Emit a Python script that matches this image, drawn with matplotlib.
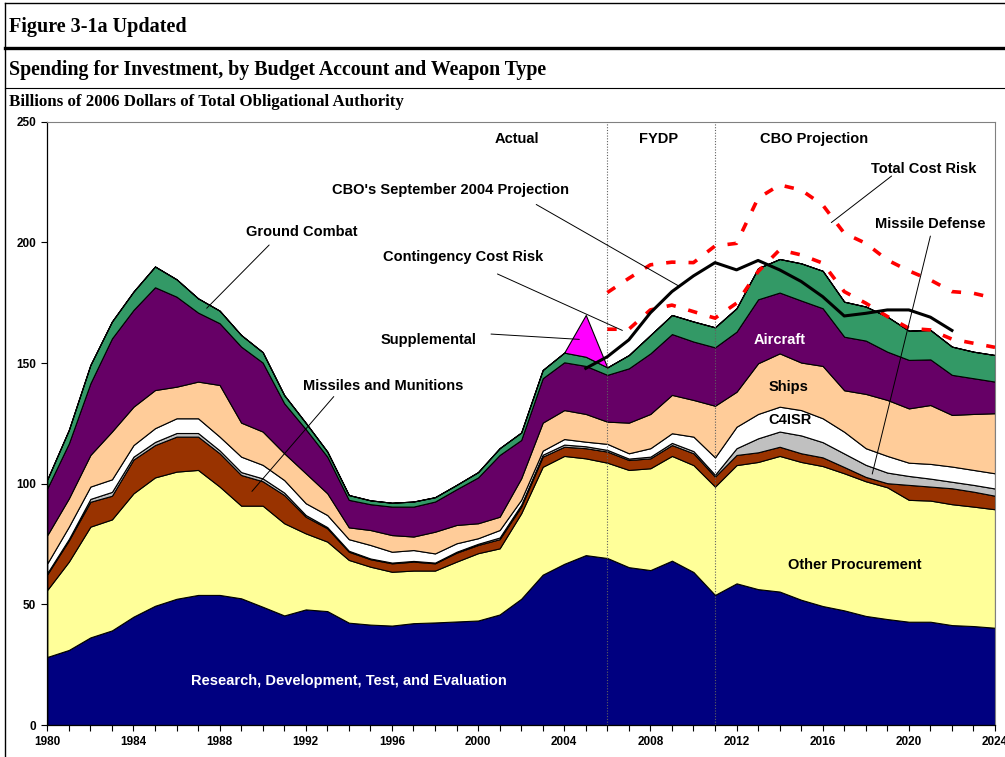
import numpy as np
import matplotlib
matplotlib.use("Agg")
import matplotlib.pyplot as plt
from matplotlib.lines import Line2D

years = list(range(1980, 2025))

rdte = [28.2, 31.1, 36.3, 39.2, 44.9, 49.4, 52.3, 53.9, 53.9, 52.5,
        49.0, 45.4, 47.9, 47.2, 42.4, 41.6, 41.2, 42.2, 42.5, 42.9,
        43.3, 45.8, 52.3, 62.3, 66.8, 70.4, 69.2, 65.4, 64.2, 68.1,
        63.4, 53.9, 58.7, 56.3, 55.3, 51.9, 49.3, 47.5, 45.2, 43.9,
        42.8, 42.8, 41.4, 41.0, 40.3]
other_proc = [27.8, 36.6, 45.9, 46.0, 51.1, 53.2, 52.7, 51.8, 44.9, 38.4,
              41.9, 38.2, 31.5, 28.8, 26.0, 24.0, 22.3, 21.8, 21.5, 24.8,
              27.9, 27.4, 35.4, 44.7, 44.7, 40.1, 39.5, 40.3, 42.2, 43.4,
              44.3, 44.9, 49.0, 52.7, 56.2, 57.1, 58.0, 56.8, 55.8, 54.6,
              50.5, 50.2, 50.1, 49.5, 49.1]
missiles = [6.5, 8.8, 10.3, 9.8, 14.0, 13.4, 14.5, 13.8, 13.8, 12.7,
            10.1, 11.7, 6.9, 5.5, 3.4, 3.1, 3.5, 3.7, 3.0, 3.7,
            3.4, 3.8, 2.8, 4.2, 3.8, 4.2, 4.6, 4.1, 4.1, 4.5,
            4.9, 4.1, 4.2, 4.0, 3.8, 3.6, 3.6, 2.6, 1.8, 1.7,
            6.2, 5.8, 6.6, 6.2, 5.6]
missile_def = [0.5, 0.6, 1.2, 1.6, 1.2, 1.3, 1.5, 1.5, 1.2, 1.2,
               1.2, 1.0, 0.7, 0.5, 0.4, 0.3, 0.3, 0.3, 0.3, 0.4,
               0.5, 0.7, 0.8, 0.8, 0.9, 0.8, 0.7, 0.6, 0.7, 0.9,
               0.9, 0.8, 2.8, 5.8, 6.3, 7.4, 6.3, 5.6, 5.0, 4.4,
               3.7, 3.3, 2.7, 2.8, 3.0]
c4isr = [4.0, 5.1, 5.1, 5.2, 4.8, 5.7, 6.1, 6.1, 5.7, 6.4,
         5.6, 5.2, 4.9, 5.0, 4.8, 5.6, 4.5, 4.5, 3.8, 3.5,
         2.3, 3.1, 2.0, 1.7, 2.3, 1.9, 2.5, 2.2, 3.5, 4.0,
         6.0, 7.2, 8.9, 10.1, 10.3, 10.5, 9.9, 9.0, 6.9, 6.9,
         5.5, 6.1, 6.3, 6.2, 6.3]
ships = [11.7, 11.7, 13.1, 19.8, 15.9, 15.8, 13.1, 15.2, 21.4, 14.1,
         13.8, 11.1, 12.4, 9.0, 4.9, 6.2, 6.9, 5.6, 9.0, 7.6,
         6.2, 5.5, 8.9, 11.6, 12.0, 11.5, 9.2, 12.7, 14.2, 15.9,
         15.2, 21.4, 14.5, 21.0, 22.1, 19.7, 21.7, 17.2, 22.5, 23.2,
         22.5, 24.4, 21.4, 23.2, 24.9]
aircraft = [19.4, 22.8, 29.7, 38.6, 40.1, 42.6, 37.3, 28.6, 25.6, 31.5,
            28.6, 20.7, 18.3, 15.2, 11.4, 10.7, 11.8, 12.4, 12.5, 14.8,
            19.0, 25.6, 15.9, 18.4, 19.8, 19.9, 19.4, 22.5, 25.1, 25.2,
            24.2, 24.2, 24.9, 26.5, 25.2, 25.7, 23.9, 22.2, 22.1, 20.0,
            20.1, 18.9, 16.6, 14.8, 13.1]
ground = [3.7, 5.6, 7.6, 7.0, 7.6, 8.6, 7.2, 5.9, 5.2, 4.8,
          4.3, 3.4, 2.6, 2.1, 2.0, 1.6, 1.6, 2.1, 1.8, 1.8,
          2.2, 2.8, 3.1, 3.4, 4.0, 3.8, 3.1, 5.5, 7.6, 7.9,
          8.3, 8.3, 9.7, 12.9, 13.9, 15.4, 15.5, 14.5, 14.1, 14.5,
          12.1, 12.2, 11.7, 11.0, 11.0]
supplemental = [0.0] * 45
supplemental[25] = 17.3  # 2005

cbo2004_years = list(range(2005, 2023))
cbo2004 = [147.8, 152.6, 159.6, 170.8, 179.6, 186.1, 191.6, 188.6, 192.5,
           188.6, 183.8, 177.5, 169.5, 170.6, 172.0, 172.0, 169.0, 163.5]

risk_years = list(range(2006, 2025))
total_risk = [179.2, 185.1, 190.7, 191.8, 191.6, 198.5, 199.6, 218.3, 223.8,
              221.7, 215.5, 203.8, 199.6, 192.7, 188.2, 184.4, 179.6, 178.9, 176.8]
contingency_risk = [164.0, 164.0, 172.0, 174.0, 171.3, 168.6, 174.8, 187.9, 196.9,
                    194.8, 191.4, 179.6, 174.8, 169.3, 164.4, 163.7, 159.9, 158.2, 156.5]

colors = ["#000080", "#FFFF99", "#993300", "#C0C0C0", "#FFFFFF",
          "#FFCC99", "#660066", "#339966", "#FF00FF"]

W, H = 1005, 757
fig = plt.figure(figsize=(W / 100, H / 100), dpi=100)
fig.patch.set_facecolor("white")

def fx(px):
    return px / W

def fy(py):
    return 1 - py / H

# Header frame
fig.add_artist(Line2D([fx(5), 1], [fy(3), fy(3)], color="black", lw=1.0))
fig.add_artist(Line2D([fx(5), fx(5)], [fy(3), 0], color="black", lw=1.0))
fig.add_artist(Line2D([fx(5), 1], [fy(48), fy(48)], color="black", lw=2.4))
fig.add_artist(Line2D([fx(5), 1], [fy(88), fy(88)], color="black", lw=0.8))

serif = "Liberation Serif"
fig.text(fx(9), fy(27), "Figure 3-1a Updated", family=serif, weight="bold",
         fontsize=14.5, va="center", ha="left")
fig.text(fx(9), fy(70), "Spending for Investment, by Budget Account and Weapon Type",
         family=serif, weight="bold", fontsize=14.3, va="center", ha="left")
fig.text(fx(9), fy(102), "Billions of 2006 Dollars of Total Obligational Authority",
         family=serif, weight="bold", fontsize=12.2, va="center", ha="left")

ax_l, ax_r, ax_t, ax_b = 47.3, 995.0, 121.7, 725.0
ax = fig.add_axes([fx(ax_l), fy(ax_b), (ax_r - ax_l) / W, (ax_b - ax_t) / H])

ax.stackplot(years, rdte, other_proc, missiles, missile_def, c4isr, ships,
             aircraft, ground, supplemental, colors=colors,
             edgecolor="black", linewidth=0.8, zorder=2)

for yr in (2006, 2011):
    ax.axvline(yr, color="#606060", lw=0.8, ls=(0, (1, 1.5)), zorder=3)

ax.plot(risk_years, total_risk, color="red", lw=2.6, ls=(0, (2.6, 3.6)), zorder=4)
ax.plot(risk_years, contingency_risk, color="red", lw=2.6, ls=(0, (2.6, 3.6)), zorder=4)
ax.plot(cbo2004_years, cbo2004, color="black", lw=2.2, zorder=5)

ax.set_xlim(1980, 2024)
ax.set_ylim(0, 250)
ax.set_yticks(range(0, 251, 50))
ax.set_xticks(years)
ax.set_xticklabels([str(y) if (y - 1980) % 4 == 0 else "" for y in years])

sans = "Liberation Sans"
for lab in ax.get_xticklabels() + ax.get_yticklabels():
    lab.set_fontfamily(sans)
    lab.set_fontweight("bold")
    lab.set_fontsize(8.5)
ax.tick_params(axis="both", direction="out", length=4, width=0.8, color="black")
ax.tick_params(axis="y", pad=4)
ax.tick_params(axis="x", pad=4)
for s in ("left", "bottom"):
    ax.spines[s].set_color("black")
    ax.spines[s].set_linewidth(0.9)
for s in ("top", "right"):
    ax.spines[s].set_color("#808080")
    ax.spines[s].set_linewidth(0.8)
ax.set_facecolor("white")

def label(x, y, s, color="black", ha="center"):
    ax.text(x, y, s, family=sans, weight="bold", fontsize=10.5, color=color,
            ha=ha, va="center", zorder=7)

def leader(p0, p1):
    ax.annotate("", xy=p1, xytext=p0, zorder=6,
                arrowprops=dict(arrowstyle="-", lw=0.7, color="black",
                                shrinkA=0, shrinkB=0))

label(2001.8, 242.9, "Actual")
label(2008.4, 242.9, "FYDP")
label(2015.6, 242.9, "CBO Projection")
label(2020.7, 230.4, "Total Cost Risk")
leader((2019.2, 227.5), (2016.4, 208.2))
label(2021.0, 207.5, "Missile Defense")
leader((2021.0, 202.6), (2018.3, 104.0))
label(1998.7, 221.5, "CBO's September 2004 Projection")
leader((2002.7, 215.7), (2009.3, 182.0))
label(1999.3, 193.9, "Contingency Cost Risk")
leader((2000.9, 186.9), (2006.7, 163.5))
label(1997.7, 159.5, "Supplemental")
leader((2000.6, 162.0), (2004.7, 159.8))
label(1991.8, 204.1, "Ground Combat")
leader((1990.3, 198.9), (1987.4, 172.7))
label(1995.6, 140.5, "Missiles and Munitions")
leader((1993.3, 136.1), (1989.5, 96.8))
label(2014.0, 159.5, "Aircraft", color="white")
label(2014.4, 140.2, "Ships")
label(2014.5, 126.4, "C4ISR")
label(2017.5, 66.3, "Other Procurement")
label(1994.0, 18.2, "Research, Development, Test, and Evaluation", color="white")

fig.savefig("out.png", dpi=100)
